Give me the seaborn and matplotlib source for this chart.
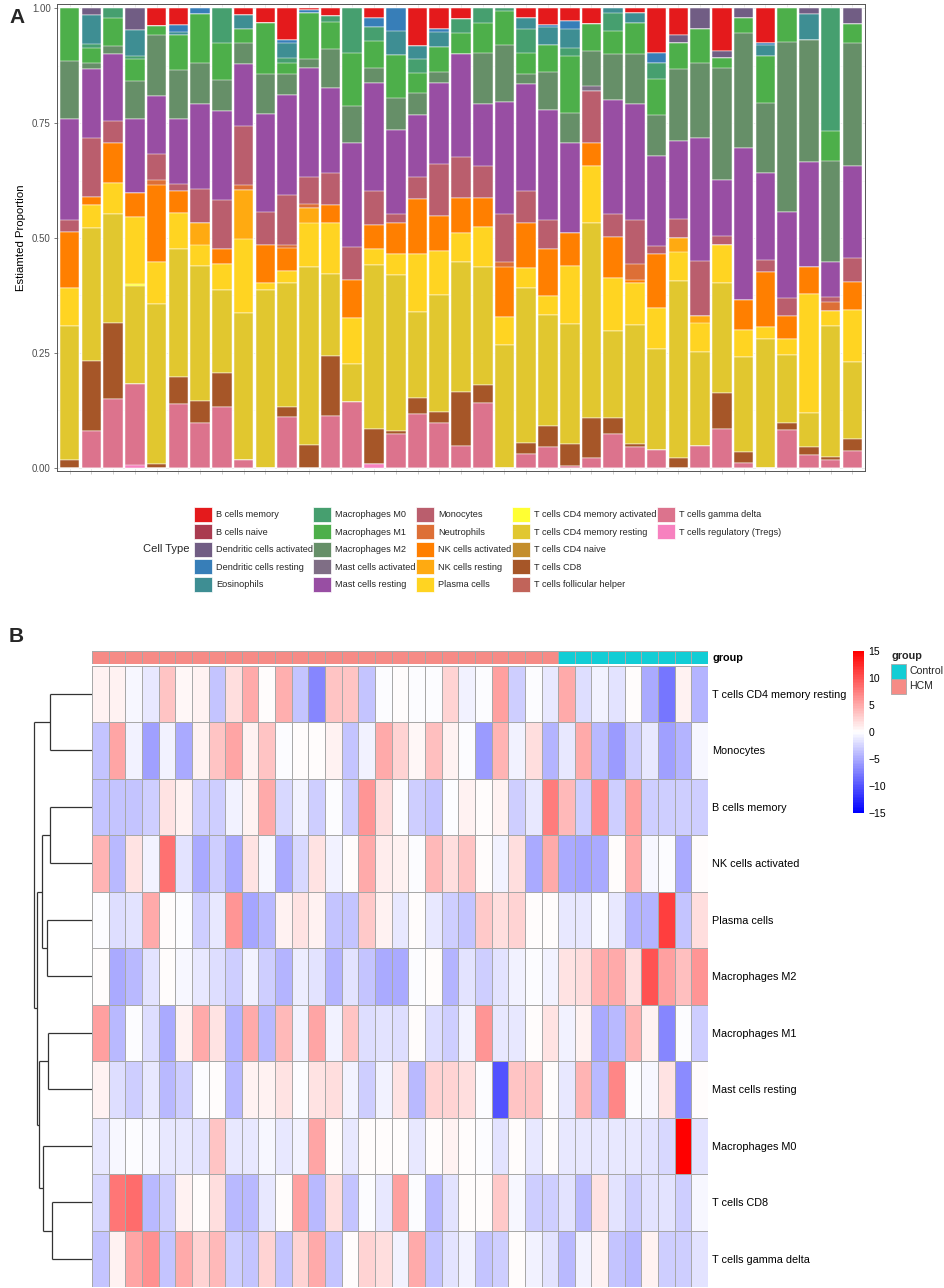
import numpy as np
import pandas as pd
import matplotlib
matplotlib.use("Agg")
import matplotlib.pyplot as plt
import seaborn as sns
from matplotlib.colors import LinearSegmentedColormap, ListedColormap, to_rgb, to_hex
from matplotlib.patches import Patch, Rectangle

# ---------------- Panel A data: estimated proportions, 37 samples ----------------
cell_types = ["B cells memory", "B cells naive", "Dendritic cells activated",
              "Dendritic cells resting", "Eosinophils", "Macrophages M0",
              "Macrophages M1", "Macrophages M2", "Mast cells activated",
              "Mast cells resting", "Monocytes", "Neutrophils", "NK cells activated",
              "NK cells resting", "Plasma cells", "T cells CD4 memory activated",
              "T cells CD4 memory resting", "T cells CD4 naive", "T cells CD8",
              "T cells follicular helper", "T cells gamma delta",
              "T cells regulatory (Tregs)"]

b_mem = [0, 0, 0, 0, .039, .036, 0, 0, .015, .033,
         .069, .004, .017, 0, .022, 0, .082, .046, .024, 0,
         0, .020, .036, .027, .034, 0, .011, .097, .058, 0,
         .092, 0, .075, 0, 0, 0, 0]
b_naive = [0] * 37
dc_act = [0, .015, 0, .047, 0, 0, 0, 0, 0, 0,
          0, 0, 0, 0, 0, 0, 0, 0, 0, 0,
          0, 0, 0, 0, 0, 0, 0, 0, .018, .046,
          .016, .022, 0, 0, .012, 0, .034]
dc_rest = [0, 0, 0, 0, 0, .016, .013, 0, 0, 0,
           .007, .006, 0, 0, .019, .049, 0, .005, 0, 0,
           0, 0, .004, .017, 0, 0, 0, .022, 0, 0,
           0, 0, .005, 0, 0, 0, 0]
eos = [0, .063, 0, .057, 0, .006, 0, 0, .029, 0,
       .033, 0, 0, 0, 0, .053, .029, .034, 0, 0,
       0, .026, .040, .043, 0, .011, .020, 0, 0, 0,
       0, 0, .024, 0, .056, 0, 0]
mac_m0 = [0, .009, .020, .007, 0, 0, 0, .076, 0, 0,
          .011, 0, .012, .098, .030, 0, .029, 0, .029, .031,
          .006, .052, 0, .017, 0, .038, 0, .036, 0, 0,
          0, 0, 0, 0, 0, .267, 0]
mac_m1 = [.114, .033, .062, .047, .019, .077, .106, .080, .031, .109,
          .023, .101, .060, .115, .060, .094, .044, .053, .047, .067,
          .074, .045, .058, .125, .058, .051, .069, .077, .057, .073,
          .023, .032, .103, .073, 0, .066, .041]
mac_m2 = [.126, .012, .018, .084, .133, .105, .089, .067, .047, .088,
          .046, .018, .084, .080, .032, .069, .048, .025, 0, .110,
          .123, .022, .084, .065, .077, .100, .108, .090, .155, .164,
          .242, .251, .152, .370, .266, .219, .269]
mast_act = [0, 0, 0, 0, 0, 0, 0, 0, 0, 0,
            0, 0, 0, 0, 0, 0, 0, 0, 0, 0,
            0, 0, 0, 0, .011, 0, 0, 0, 0, 0,
            0, 0, 0, 0, 0, 0, 0]
mast_rest = [.220, .150, .145, .161, .127, .143, .186, .195, .134, .213,
             .218, .238, .186, .226, .235, .182, .136, .175, .223, .136,
             .244, .232, .239, .195, 0, .247, .253, .196, .170, .267,
             .123, .331, .188, .187, .230, .076, .199]
mono = [.027, .128, .048, 0, .056, .014, .073, .107, .129, .073,
        .109, .059, .070, .073, .074, .020, .048, .115, .091, .070,
        .106, .071, .063, 0, .113, .051, .095, .017, .043, .120,
        .020, 0, .027, .040, 0, .011, .053]
neutro = [0, 0, 0, 0, .011, 0, 0, 0, .011, 0,
          .005, .008, 0, 0, 0, 0, 0, 0, 0, 0,
          .010, 0, 0, 0, 0, 0, .036, 0, 0, 0,
          0, 0, 0, 0, 0, .020, 0]
nk_act = [.121, .019, .088, .052, .167, .048, 0, .031, 0, .082,
          .051, 0, .038, .083, .053, .067, .118, .075, .075, .062,
          .109, .098, .103, .072, .051, .090, .007, .117, 0, 0,
          0, .065, .120, .050, .059, 0, .060]
nk_rest = [0, 0, 0, 0, 0, 0, .049, 0, .107, 0,
           0, .033, 0, 0, 0, 0, 0, 0, 0, 0,
           0, 0, 0, 0, 0, 0, 0, 0, .029, .015,
           0, 0, 0, 0, 0, 0, 0]
plasma = [.083, .050, .067, .146, .091, .080, .045, .058, .161, .016,
          .027, .096, .112, .100, .034, .047, .127, .097, .063, .087,
          .062, .044, .041, .127, .123, .115, .091, .090, .064, .063,
          .082, .059, .026, .035, .258, .032, .114]
cd4_mem_act = [0, 0, 0, .004, 0, 0, 0, 0, 0, 0,
               0, 0, 0, 0, 0, 0, 0, 0, 0, 0,
               0, 0, 0, 0, 0, 0, 0, 0, 0, 0,
               0, 0, 0, 0, 0, 0, 0]
cd4_mem_rest = [.293, .289, .238, .214, .350, .278, .294, .181, .320, .386,
                .269, .388, .178, .082, .356, .340, .187, .254, .283, .258,
                .266, .336, .242, .260, .426, .190, .259, .220, .386, .206,
                .239, .206, .280, .149, .074, .286, .167]
cd4_naive = [0] * 37
cd8 = [.016, .153, .164, 0, .007, .058, .048, .074, 0, 0,
       .022, .049, .131, 0, .078, .006, .036, .024, .119, .038,
       0, .025, .045, .049, .087, .034, .007, 0, .020, 0,
       .080, .023, 0, .015, .018, .007, .027]
tfh = [0] * 37
gamma_delta = [0, .079, .150, .176, 0, .139, .097, .131, .016, 0,
               .110, 0, .112, .143, 0, .073, .116, .097, .046, .141,
               0, .029, .045, .003, .020, .073, .044, .038, 0, .046,
               .083, .011, 0, .081, .027, .016, .036]
tregs = [0, 0, 0, .005, 0, 0, 0, 0, 0, 0,
         0, 0, 0, 0, .007, 0, 0, 0, 0, 0,
         0, 0, 0, 0, 0, 0, 0, 0, 0, 0,
         0, 0, 0, 0, 0, 0, 0]

# ---------------- Panel B data: scaled scores (11 rows x 37 samples) ----------------
hm_rows = ["T cells CD4 memory resting", "Monocytes", "B cells memory",
           "NK cells activated", "Plasma cells", "Macrophages M2", "Macrophages M1",
           "Mast cells resting", "Macrophages M0", "T cells CD8", "T cells gamma delta"]
z_cd4mr = [0.8, 0.8, -0.6, -1.5, 3.5, 0.3, 0.8, -3.5, 1.8, 4.8, 0.2, 4.5, -3.5, -7, 3.5, 3.3,
           -3.5, -0.3, 0.2, -0.3, -0.3, 2.5, -0.8, -0.3, 5.5, -3, -0.2, -1.5, 4.8, -2, -0.8,
           -1.7, 0.2, -5, -8, 0.8, -4.5]
z_mono = [-3.5, 5.3, -0.8, -5.5, -0.8, -5, 0.8, 3.5, 5.3, 0.8, 3.5, -0.2, 0.05, 0.2, 0.8, -3.5,
          -0.8, 4.8, 2.5, 0.3, 3.8, 0.8, -0.3, -6, 4.3, -0.8, 2, -4.5, -1.5, 4.8, -4, -6, -3,
          -1.5, -5.5, -4.5, -0.6]
z_bmem = [-3.5, -3.5, -3.5, -3, 1.5, 0.8, -3, -3, -0.8, 0.6, 5, -2.3, -0.8, -3, -0.3, -3, 6, 2,
          -0.3, -3, -3.5, -0.3, 0.8, 0.2, 0.8, -3, -1.5, 7.5, 4, -3, 7, -3, 5.5, -3, -3, -3, -3]
z_nka = [4.3, -4, 1.5, -0.8, 8.3, -1.7, -5, -3, -5, 1.5, -0.6, -5, -2.2, 1.7, -0.8, 0.1, 4.8, 1,
         0.8, -0.3, 4, 2, 3.5, 0.2, -0.8, 2, -5, 4.8, -5, -5.2, -5, 0.1, 4.8, -0.6, -0.2, -5, 0]
z_plasma = [-0.3, -2, -1.7, 4.8, 0.2, -0.3, -3, -1.5, 6, -5.2, -4, 0.8, 1.5, 0.6, -3.5, -3.5,
            3.2, 0.8, -1.5, 0.2, -1.5, -3, -3.5, 3.2, 2, 2.5, 0.1, 0.1, -1.5, -1.5, -0.3, -1.5,
            -4.5, -4.5, 11.3, -3.5, 2]
z_m2 = [0.2, -5, -4, -1.7, 0.2, -0.5, -1.5, -2, -3, -0.8, -2.8, -4.5, -1.2, -1.7, -4.5, -1.7,
        -3.5, -5, -5, -0.3, 0.1, -4.5, -1.7, -3, -1.7, -0.8, -0.3, -0.8, 1.5, 2, 4.8, 4.8, 2,
        10, 5.5, 3.8, 6]
z_m1 = [5.5, -4, -0.2, -2, -5, 0.8, 4.8, 1.5, -4.5, 4.8, -4, 4, -0.8, 5.3, -0.8, 3.5, -2, -1.7,
        -2, 0.1, -2, -3, -0.8, 6, -1.5, -1.5, 0.1, 1.5, -0.8, 0.8, -5, -4, 4.3, 0.6, -7, -0.2,
        -2.8]
z_mastr = [0.8, -2, -3, -1.5, -4, -3, -0.2, 0.1, -4, 0.8, 0.8, 1.7, -0.3, 1.5, 2, -0.8, -3,
           -0.8, 1.5, -4, 2.5, 2.5, 2, -0.2, -10, 3.5, 3.5, 0.1, -1.5, 4.3, -4, 7, -0.2, -0.6,
           1.5, -6.8, 0.1]
z_m0 = [-1.5, -0.6, -0.2, -0.6, -1.5, -1.5, -1.7, 3.5, -1.5, -1.5, -0.6, -1.5, -0.7, 5.3, 0.1,
        -1.5, 0.1, 0.1, 0.1, -1.5, 0.1, 0.8, 0.1, -0.2, -1.7, 0.2, -1.5, 0.1, -1.5, -1.5, -1.5,
        -1.5, -1.5, -1.7, -2.3, 15, -1.7]
z_cd8 = [-2.2, 8, 8.5, -4, -2.8, 0.8, 0.1, 2, -4, -4, -1.5, 0.1, 5.5, -4, 2, -3.5, -0.3, -1.5,
         5.5, -0.2, -4, -1.7, 0.1, 0.1, 3.2, -0.6, -3, -3, -1.7, -4, 1.5, -1.7, -3, -1.7, -1.7,
         -2.8, -0.6]
z_gd = [-3.5, 0.8, 5.3, 6.5, -3.5, 5, 2.5, 4, -2.8, -3.5, 2.5, -3.5, 2.5, 4.8, -3.5, 0.1, 2.5,
        2, -0.8, 4.8, -3.5, -1.7, -0.8, -3.5, -2.8, 0.2, -0.8, -1.7, -4, -0.8, 0.8, -3.5, -4,
        0.8, -2.8, -2.8, -1.7]
group = ["HCM"] * 28 + ["Control"] * 9

# row dendrogram: (left node, right node, merge height); leaves 0..10, new nodes 11..
dendro_merges = [(0, 1, 125), (2, 3, 125), (4, 5, 135), (12, 13, 150), (6, 7, 130),
                 (9, 10, 120), (8, 16, 147), (15, 17, 157), (14, 18, 165), (11, 19, 172)]

# ---------------- styling ----------------
sns.set_theme(style="white")
plt.rcParams["font.family"] = ["Liberation Sans", "DejaVu Sans"]

# colorRampPalette(Set1[1:8])(22)
set1 = ["#E41A1C", "#377EB8", "#4DAF4A", "#984EA3", "#FF7F00", "#FFFF33", "#A65628", "#F781BF"]
base = np.array([to_rgb(c) for c in set1])
t = np.linspace(0, len(set1) - 1, len(cell_types))
pal = [to_hex([np.interp(tt, np.arange(len(set1)), base[:, k]) for k in range(3)]) for tt in t]
pal = dict(zip(cell_types, pal))

W, H = 945, 1288
fig = plt.figure(figsize=(W / 100, H / 100), dpi=100)


def box(x0, y0, x1, y1):
    return [x0 / W, 1 - y1 / H, (x1 - x0) / W, (y1 - y0) / H]


# ---------------- Panel A ----------------
samples = [f"S{i + 1}" for i in range(37)]
props = pd.DataFrame(dict(zip(cell_types, [
    b_mem, b_naive, dc_act, dc_rest, eos, mac_m0, mac_m1, mac_m2, mast_act, mast_rest,
    mono, neutro, nk_act, nk_rest, plasma, cd4_mem_act, cd4_mem_rest, cd4_naive, cd8,
    tfh, gamma_delta, tregs])), index=samples)
cum = props[cell_types[::-1]].cumsum(axis=1)
cum["sample"] = samples

axA = fig.add_axes(box(57, 4, 865, 471))
for name in cell_types:  # tallest cumulative first, first level ends on top
    sns.barplot(data=cum, x="sample", y=name, color=pal[name], width=0.9,
                saturation=1, errorbar=None, edgecolor="white", linewidth=0.35, ax=axA)
axA.set_xlim(-0.58, 36.58)
axA.set_ylim(-0.0075, 1.0094)
axA.set_yticks([0, 0.25, 0.5, 0.75, 1.0])
axA.set_yticklabels(["0.00", "0.25", "0.50", "0.75", "1.00"])
axA.set_yticks([0.125, 0.375, 0.625, 0.875], minor=True)
axA.set_xticks(range(37))
axA.set_xticklabels([])
axA.set_xlabel("")
axA.set_ylabel("Estiamted Proportion", fontsize=8.2, color="black", labelpad=4)
axA.set_axisbelow(True)
axA.grid(True, which="major", color="#EBEBEB", lw=0.7)
axA.grid(True, which="minor", axis="y", color="#F2F2F2", lw=0.4)
axA.tick_params(axis="y", which="major", length=2.5, width=0.5, color="#444444",
                labelsize=7, labelcolor="#4D4D4D", left=True, pad=2)
axA.tick_params(axis="x", which="major", length=2.5, width=0.5, color="#BBBBBB",
                bottom=True)
axA.tick_params(axis="y", which="minor", length=0)
for sp in axA.spines.values():
    sp.set_visible(True)
    sp.set_color("#555555")
    sp.set_linewidth(0.7)

# legend: 5 entries per column, last column padded with empty slots
handles = [Patch(facecolor=pal[c], edgecolor="white", lw=0.5) for c in cell_types]
labels = list(cell_types)
for _ in range(25 - len(cell_types)):
    handles.append(Patch(facecolor="none", edgecolor="none"))
    labels.append("")
fig.legend(handles, labels, ncol=5, loc="upper left",
           bbox_to_anchor=(194 / W, 1 - 506.5 / H), frameon=False, fontsize=6.6,
           handlelength=1.95, handleheight=2.15, handletextpad=0.45, columnspacing=0.05,
           labelspacing=0.28, borderpad=0, borderaxespad=0)

# ---------------- Panel B ----------------
hm = pd.DataFrame([z_cd4mr, z_mono, z_bmem, z_nka, z_plasma, z_m2, z_m1, z_mastr, z_m0,
                   z_cd8, z_gd], index=hm_rows, columns=samples)
cmap = LinearSegmentedColormap.from_list("bwr_ph", ["#0000FF", "#FFFFFF", "#FF0000"], N=100)
grid_col = "#A8A8A8"

axH = fig.add_axes(box(92, 665.5, 708, 1287))
sns.heatmap(hm, ax=axH, cmap=cmap, vmin=-15, vmax=15, cbar=False, linewidths=0.6,
            linecolor=grid_col, xticklabels=False, yticklabels=True)
axH.yaxis.tick_right()
axH.tick_params(axis="y", length=0, pad=3, labelsize=7.8, labelrotation=0)
for lab in axH.get_yticklabels():
    lab.set_color("black")
axH.set_xlabel("")
axH.set_ylabel("")

axN = fig.add_axes(box(92, 650.5, 708, 663.5))
grp_codes = pd.DataFrame([[0 if g == "HCM" else 1 for g in group]], index=["group"])
grp_cols = {"HCM": "#F68B86", "Control": "#12CDD5"}
sns.heatmap(grp_codes, ax=axN, cmap=ListedColormap([grp_cols["HCM"], grp_cols["Control"]]),
            vmin=0, vmax=1, cbar=False, linewidths=0.6, linecolor=grid_col,
            xticklabels=False, yticklabels=True)
axN.yaxis.tick_right()
axN.tick_params(axis="y", length=0, pad=3, labelsize=7.8, labelrotation=0)
for lab in axN.get_yticklabels():
    lab.set_fontweight("bold")
    lab.set_color("black")

# row dendrogram
axD = fig.add_axes(box(30, 665.5, 92, 1287))
ypos = {i: i + 0.5 for i in range(len(hm_rows))}
hpos = {i: 0.0 for i in range(len(hm_rows))}
node = len(hm_rows)
for a, b, h in dendro_merges:
    for c in (a, b):
        axD.plot([hpos[c], h], [ypos[c], ypos[c]], color="#333333", lw=0.9,
                 solid_capstyle="butt")
    axD.plot([h, h], [ypos[a], ypos[b]], color="#333333", lw=0.9, solid_capstyle="butt")
    ypos[node] = (ypos[a] + ypos[b]) / 2
    hpos[node] = h
    node += 1
root_h = dendro_merges[-1][2]
axD.set_xlim(root_h * 62 / 57.7, 0)
axD.set_ylim(len(hm_rows), 0)
axD.axis("off")

# colour key
axC = fig.add_axes(box(853, 651, 864, 813))
cb = fig.colorbar(axH.collections[0], cax=axC, ticks=[-15, -10, -5, 0, 5, 10, 15])
cb.outline.set_visible(False)
axC.tick_params(length=0, labelsize=7.5, pad=3, labelcolor="black")

# overlay for panel letters and legends
axT = fig.add_axes([0, 0, 1, 1])
axT.set_xlim(0, W)
axT.set_ylim(H, 0)
axT.axis("off")
axT.text(9, 17, "A", fontsize=15, fontweight="bold", va="center", ha="left")
axT.text(9, 636, "B", fontsize=15, fontweight="bold", va="center", ha="left")
axT.text(143, 549, "Cell Type", fontsize=8, va="center", ha="left")
axT.text(891, 656, "group", fontsize=7.8, fontweight="bold", va="center", ha="left")
for i, g in enumerate(["Control", "HCM"]):
    y0 = 663.5 + i * 15
    axT.add_patch(Rectangle((891, y0), 15, 15, facecolor=grp_cols[g], edgecolor=grid_col,
                            lw=0.6))
    axT.text(909, y0 + 7.5, g, fontsize=7.6, va="center", ha="left")

fig.savefig("out.png", dpi=100)
